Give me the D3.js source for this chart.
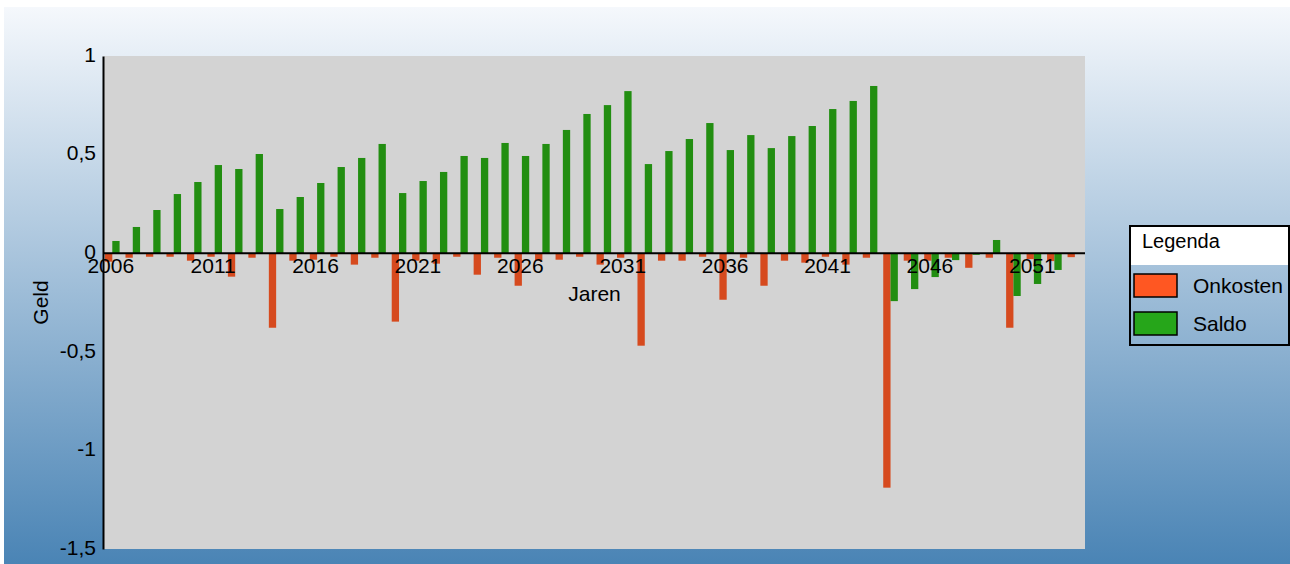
<!DOCTYPE html>
<meta charset="utf-8">
<style>
	body { margin: 0; background: #fff; }
	text { font-family: "Liberation Sans", Arial, sans-serif; }
</style>
<body>
<script src="https://cdnjs.cloudflare.com/ajax/libs/d3/7.8.5/d3.min.js"></script>
<script>

	var years = [2006, 2007, 2008, 2009, 2010, 2011, 2012, 2013, 2014, 2015,
		2016, 2017, 2018, 2019, 2020, 2021, 2022, 2023, 2024, 2025,
		2026, 2027, 2028, 2029, 2030, 2031, 2032, 2033, 2034, 2035,
		2036, 2037, 2038, 2039, 2040, 2041, 2042, 2043, 2044, 2045,
		2046, 2047, 2048, 2049, 2050, 2051, 2052, 2053];

	var onkosten = [-0.043, -0.023, -0.018, -0.018, -0.038, -0.018, -0.119, -0.023, -0.378, -0.038,
		-0.033, -0.018, -0.058, -0.023, -0.347, -0.038, -0.053, -0.018, -0.109, -0.023,
		-0.165, -0.038, -0.033, -0.018, -0.058, -0.023, -0.469, -0.038, -0.038, -0.018,
		-0.236, -0.023, -0.165, -0.038, -0.048, -0.018, -0.058, -0.023, -1.189, -0.038,
		-0.038, -0.023, -0.074, -0.023, -0.378, -0.030, -0.040, -0.020];

	var saldo = [0.062, 0.133, 0.219, 0.300, 0.361, 0.447, 0.427, 0.503, 0.224, 0.285,
		0.356, 0.437, 0.483, 0.554, 0.305, 0.366, 0.412, 0.493, 0.483, 0.559,
		0.493, 0.554, 0.625, 0.706, 0.751, 0.822, 0.452, 0.518, 0.579, 0.660,
		0.523, 0.599, 0.533, 0.594, 0.645, 0.731, 0.772, 0.848, -0.243, -0.182,
		-0.121, -0.035, -0.008, 0.067, -0.217, -0.156, -0.085, 0];

	var series = ["Onkosten", "Saldo"];
	var yTicks = [1, 0.5, 0, -0.5, -1, -1.5];
	var xTicks = [2006, 2011, 2016, 2021, 2026, 2031, 2036, 2041, 2046, 2051];

	var barColors = {Onkosten: "#d64a1e", Saldo: "#228e11"};
	var legendColors = {Onkosten: "#ff5722", Saldo: "#26a61a"};

	var W = 1290, H = 564;
	var plot = {left: 104, right: 1085, top: 56, bottom: 549};

	var svg = d3.select("body").append("svg")
		.attr("width", W)
		.attr("height", H);

	var grad = svg.append("defs").append("linearGradient")
		.attr("id", "bg")
		.attr("x1", 0).attr("y1", 0).attr("x2", 0).attr("y2", 1);
	grad.append("stop").attr("offset", "0%").attr("stop-color", "#f5f8fc");
	grad.append("stop").attr("offset", "100%").attr("stop-color", "#4a84b5");

	svg.append("rect")
		.attr("x", 4).attr("y", 7)
		.attr("width", W - 4).attr("height", H - 7)
		.attr("fill", "url(#bg)");

	svg.append("rect")
		.attr("x", plot.left).attr("y", plot.top)
		.attr("width", plot.right - plot.left)
		.attr("height", plot.bottom - plot.top)
		.attr("fill", "#d3d3d3");

	var x = d3.scaleBand()
		.domain(years)
		.range([104.5, 104.5 + 20.48 * years.length])
		.padding(0);

	var x1 = d3.scaleBand()
		.domain(series)
		.range([0.5, 15.1]);

	var y = d3.scaleLinear()
		.domain([-1.5, 1])
		.range([plot.bottom, plot.top]);

	var nl = d3.formatLocale({decimal: ",", thousands: ".", grouping: [3], currency: ["€", ""], minus: "-"});
	var fmt = nl.format("");

	var data = years.map(function(yr, i) {
		return {year: yr, values: [
			{key: "Onkosten", value: onkosten[i]},
			{key: "Saldo", value: saldo[i]}
		]};
	});

	var groups = svg.selectAll(".year")
		.data(data)
		.enter().append("g")
		.attr("class", "year")
		.attr("transform", function(d) { return "translate(" + x(d.year) + ",0)"; });

	groups.selectAll("rect")
		.data(function(d) { return d.values; })
		.enter().append("rect")
		.attr("x", function(d) { return x1(d.key); })
		.attr("width", x1.bandwidth())
		.attr("y", function(d) { return y(Math.max(0, d.value)); })
		.attr("height", function(d) { return Math.abs(y(d.value) - y(0)); })
		.attr("fill", function(d) { return barColors[d.key]; });

	// zero line
	svg.append("line")
		.attr("x1", plot.left).attr("x2", plot.right)
		.attr("y1", y(0)).attr("y2", y(0))
		.attr("stroke", "#000")
		.attr("stroke-width", 2);

	var yAxis = d3.axisLeft(y)
		.tickValues(yTicks)
		.tickFormat(fmt)
		.tickSize(0)
		.tickPadding(7);

	var gy = svg.append("g")
		.attr("transform", "translate(103,0)")
		.call(yAxis);
	gy.select(".domain").attr("stroke", "#000").attr("stroke-width", 2);
	gy.selectAll("text")
		.attr("dy", "0.25em")
		.style("font-size", "21px")
		.attr("fill", "#000");

	var xAxis = d3.axisBottom(x)
		.tickValues(xTicks)
		.tickSize(0)
		.tickPadding(5);

	var gx = svg.append("g")
		.attr("transform", "translate(0," + y(0) + ")")
		.call(xAxis);
	gx.select(".domain").remove();
	gx.selectAll("text")
		.attr("dx", "-4")
		.style("font-size", "21px")
		.attr("fill", "#000");

	svg.append("text")
		.attr("x", (plot.left + plot.right) / 2)
		.attr("y", 301)
		.attr("text-anchor", "middle")
		.style("font-size", "21px")
		.text("Jaren");

	svg.append("text")
		.attr("transform", "translate(48," + ((plot.top + plot.bottom) / 2) + ") rotate(-90)")
		.attr("text-anchor", "middle")
		.style("font-size", "21px")
		.text("Geld");

	// legend
	var lg = svg.append("g").attr("transform", "translate(1130,226)");
	lg.append("rect")
		.attr("x", 1).attr("y", 1)
		.attr("width", 157).attr("height", 38)
		.attr("fill", "#fff");
	lg.append("rect")
		.attr("width", 159).attr("height", 119)
		.attr("fill", "none")
		.attr("stroke", "#000")
		.attr("stroke-width", 2);
	lg.append("text")
		.attr("x", 12).attr("y", 22)
		.style("font-size", "20px")
		.text("Legenda");

	var items = lg.selectAll(".item")
		.data(series)
		.enter().append("g")
		.attr("class", "item")
		.attr("transform", function(d, i) { return "translate(4," + (48 + i * 38) + ")"; });
	items.append("rect")
		.attr("width", 43).attr("height", 23)
		.attr("fill", function(d) { return legendColors[d]; })
		.attr("stroke", "#000")
		.attr("stroke-width", 1.5);
	items.append("text")
		.attr("x", 59).attr("y", 19)
		.style("font-size", "21px")
		.text(function(d) { return d; });

</script>
